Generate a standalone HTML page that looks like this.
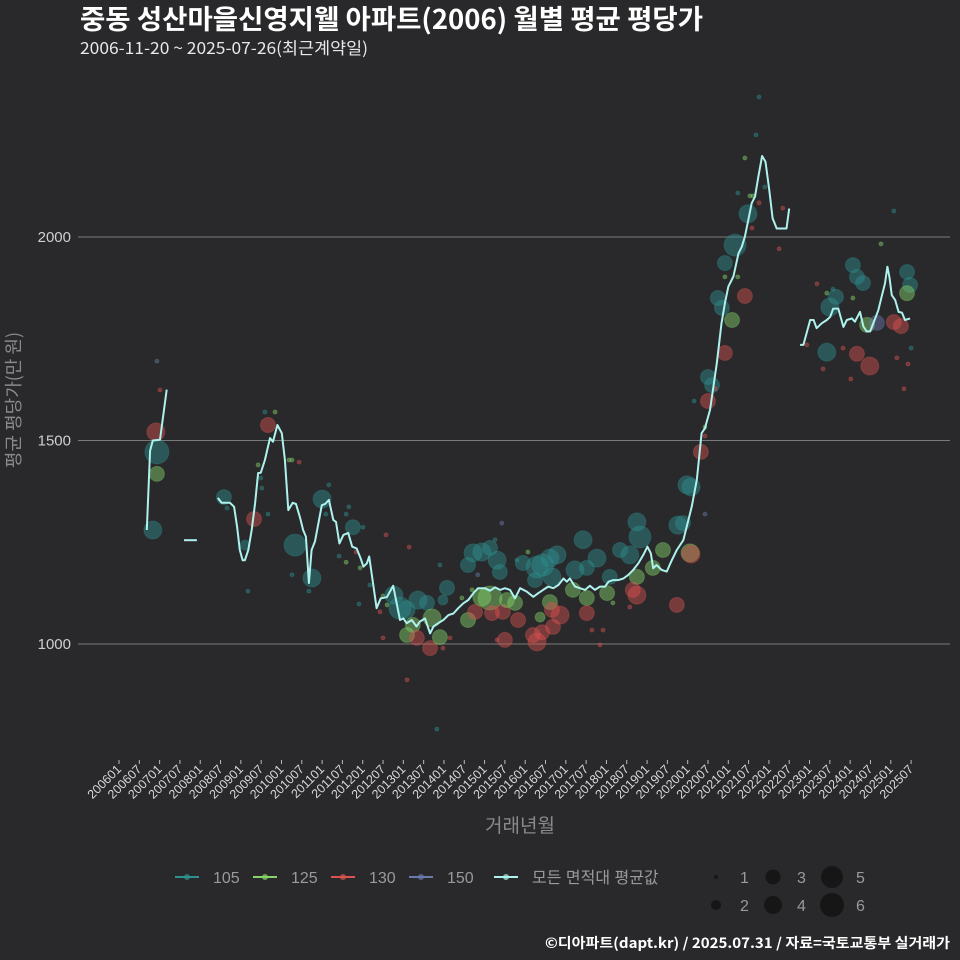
<!DOCTYPE html>
<html><head><meta charset="utf-8">
<style>
html,body{margin:0;padding:0;background:#29292b;}
svg{display:block;font-family:"Liberation Sans","Noto Sans CJK KR",sans-serif;}
</style></head>
<body>
<svg id="chart" width="960" height="960" viewBox="0 0 960 960">
<rect width="960" height="960" fill="#29292b"/>
<text x="80" y="29" fill="#ffffff" font-size="27" font-weight="bold" font-family="'Noto Sans CJK KR',sans-serif" textLength="623" lengthAdjust="spacingAndGlyphs">중동 성산마을신영지웰 아파트(2006) 월별 평균 평당가</text>
<text x="80" y="54" fill="#e8e8e8" font-size="16.5" font-family="'Noto Sans CJK KR',sans-serif" textLength="288" lengthAdjust="spacingAndGlyphs">2006-11-20 ~ 2025-07-26(최근계약일)</text>
<g id="grid"></g>
<g id="bubbles"></g>
<g id="lines"></g>
<g id="xaxis"></g>
<text x="15" y="400" transform="rotate(-90 15 400)" text-anchor="middle" dominant-baseline="middle" fill="#8a8a8a" font-size="18" font-family="'Noto Sans CJK KR',sans-serif">평균 평당가(만 원)</text>
<text x="520" y="832" text-anchor="middle" fill="#8a8a8a" font-size="19" font-family="'Noto Sans CJK KR',sans-serif">거래년월</text>
<g id="legend"></g>
<text x="950" y="948" text-anchor="end" fill="#ffffff" font-size="14" font-weight="bold" font-family="'Noto Sans CJK KR',sans-serif" textLength="405" lengthAdjust="spacingAndGlyphs">©디아파트(dapt.kr) / 2025.07.31 / 자료=국토교통부 실거래가</text>
</svg>
<script>
// y ticks
const yTicks = [1000, 1500, 2000];
// x tick labels (every 6 months from 2006-01)
const xTickLabels = [];
for (let y = 2006; y <= 2025; y++) { xTickLabels.push(y + '01'); xTickLabels.push(y + '07'); }
const groupNames = ['105', '125', '130', '150'];
const groupColors = ['#2f9090', '#86d46a', '#d9534f', '#6a7aaa'];
// average line segments: months since 2006-01 and values
const seg1T = [8.2, 9.2, 10.0, 12.1, 14.1];
const seg1V = [1280, 1475, 1500, 1502, 1625];
const seg2T = [19.2, 23.0];
const seg2V = [1255, 1255];
const seg3T = [29.2,30.3,32.8,34.0,34.9,35.7,36.5,37.2,38.2,39.2,40.2,41.1,41.9,43.1,44.6,45.5,46.8,48.1,49.0,50.0,51.3,52.3,53.5,54.4,55.2,56.1,56.9,57.9,59.9,60.9,62.0,63.3,64.1,65.1,66.3,67.7,68.9,70.2,71.4,72.2,73.2,73.9,76.1,77.3,79.1,81.0,83.0,84.0,85.0,86.5,87.9,88.9,90.4,91.9,92.9,94.3,95.8,97.3,98.8,100.2,101.7,103.2,104.7,106.1,108.1,109.6,111.1,112.6,114.0,115.5,117.0,118.5,120.4,122.4,123.9,125.3,126.8,128.3,129.8,131.3,132.3,133.2,134.7,136.2,137.7,139.1,140.6,142.1,143.6,144.6,146.0,147.5,149.0,150.5,151.9,153.4,154.9,156.1,157.1,157.8,158.8,160.3,161.8,163.3,164.8,166.7,167.7,169.2,170.7,171.1,172.1,173.1,174.6,175.6,176.6,178.0,179.0,180.0,181.5,183.0,184.0,184.9,185.9,186.9,187.9,188.9,190.0,191.0,192.1,193.1,194.3,197.2,198.0];
const seg3V = [1359,1347,1347,1337,1288,1231,1206,1206,1231,1280,1346,1420,1421,1452,1506,1497,1538,1518,1452,1329,1347,1344,1310,1280,1264,1150,1231,1252,1341,1344,1354,1305,1300,1247,1268,1273,1239,1235,1210,1190,1198,1215,1088,1112,1115,1143,1059,1063,1051,1059,1043,1055,1063,1026,1043,1051,1059,1071,1075,1088,1100,1108,1125,1137,1137,1131,1139,1133,1137,1133,1112,1137,1129,1116,1125,1133,1141,1137,1145,1161,1153,1161,1141,1137,1133,1143,1133,1141,1141,1153,1157,1157,1161,1170,1182,1198,1219,1239,1223,1186,1194,1182,1178,1206,1231,1255,1288,1337,1403,1436,1518,1530,1575,1632,1690,1788,1837,1878,1903,1960,1976,2001,2042,2083,2099,2149,2199,2185,2115,2046,2021,2021,2070];
const seg4T = [201.2,202.2,204.2,205.2,206.1,207.6,209.1,210.1,211.0,212.5,214.0,215.0,216.5,217.4,218.9,219.9,220.9,221.9,223.0,224.3,225.3,226.3,227.0,227.6,228.3,229.3,230.3,231.3,232.2,233.7];
const seg4V = [1735,1735,1796,1796,1776,1788,1796,1804,1824,1824,1779,1796,1800,1792,1816,1780,1768,1768,1792,1820,1853,1886,1927,1902,1857,1845,1816,1814,1796,1800];
// bubbles: month, value, count(size), area group index
const bubT = [10.0,11.2,10.9,11.2,11.2,12.1,31.0,31.9,39.9,37.2,38.1,43.1,46.1,44.0,41.1,41.9,42.2,44.0,50.2,51.1,53.2,52.0,51.1,57.0,56.1,60.0,62.0,61.1,67.1,67.9,69.1,72.1,78.9,85.7,70.0,65.0,67.1,71.2,74.1,70.9,77.1,78.0,79.2,78.0,81.2,84.8,85.1,85.1,93.9,83.0,88.3,91.0,96.9,95.7,92.5,86.8,88.0,91.9,94.8,95.7,97.8,94.8,101.3,103.1,105.2,104.6,107.2,109.6,111.7,112.5,103.1,106.0,111.1,113.1,104.3,107.2,109.6,110.2,113.4,114.6,117.0,117.9,114.0,111.7,117.6,119.3,120.8,122.9,123.5,125.2,127.3,129.4,127.9,124.4,127.3,127.9,130.3,128.2,125.0,122.3,123.5,134.7,137.1,138.2,141.2,134.1,138.2,144.2,145.0,148.0,150.9,153.0,153.9,153.0,138.2,139.7,143.0,142.1,145.9,150.9,153.0,151.8,157.7,160.7,164.8,165.1,167.8,168.7,189.1,188.2,184.9,182.8,186.4,187.3,185.8,189.1,187.0,190.8,196.1,195.0,182.0,179.0,179.0,182.8,176.9,178.1,184.9,181.1,179.0,174.0,175.2,176.1,174.0,171.9,169.0,173.1,166.6,169.0,169.9,173.1,173.1,228.9,225.1,216.8,218.0,219.8,210.9,211.8,210.0,209.1,216.8,232.8,233.7,232.8,221.0,223.9,228.9,231.0,203.2,209.1,213.9,218.0,221.8,216.2,208.0,229.8,233.1,231.9,206.2,234.0];
const bubV = [1280,1472,1521,1418,1695,1624,1361,1334,1307,1243,1130,1570,1570,1538,1440,1408,1383,1319,1452,1452,1447,1243,1170,1162,1130,1356,1391,1319,1319,1337,1287,1287,1268,1238,1226,1216,1201,1187,1145,1098,1079,1118,1096,1015,1120,1084,1022,912,791,1088,1108,1101,1138,1108,1064,1047,1015,990,1017,990,1015,1194,1113,1059,1079,1224,1226,1236,1206,1177,1194,1170,1256,1297,1133,1115,1113,1076,1079,1108,1101,1059,1010,1010,1206,1199,1226,1157,1189,1194,1211,1219,1165,1066,1103,1084,1071,1042,1029,1022,1005,1182,1256,1187,1211,1133,1113,1125,1165,1231,1219,1300,1263,1165,1076,1034,1034,998,1101,1091,1120,1133,1187,1231,1096,1292,1391,1224,2344,2251,2194,2108,2101,2101,2057,2084,2022,2123,2071,1971,1980,1936,1902,1902,1850,1826,1855,1796,1715,1656,1636,1627,1597,1472,1386,1319,1297,1221,1597,1533,1511,2064,1983,1931,1902,1887,1872,1853,1828,1862,1850,1914,1882,1862,1784,1789,1791,1781,1735,1717,1727,1713,1683,1651,1676,1703,1688,1627,1885,1727];
const bubS = [4,6,4,3,1,1,3,1,3,2,1,1,1,3,1,1,1,1,1,1,1,5,1,4,1,4,1,1,1,1,3,1,1,1,1,1,1,1,1,1,1,1,1,1,4,4,3,1,1,5,4,3,3,2,4,3,3,3,3,1,1,1,1,3,3,4,4,3,4,3,3,1,1,1,1,4,6,3,3,3,3,3,3,1,1,3,1,3,5,5,4,4,4,2,3,3,4,3,3,3,4,4,4,3,4,3,3,3,3,3,4,4,5,3,3,1,1,1,1,1,4,3,3,3,3,4,4,4,1,1,1,1,1,1,4,1,1,1,1,1,5,3,1,1,3,3,3,3,3,3,3,1,3,3,4,1,3,4,1,1,1,1,1,3,3,3,1,3,4,1,1,3,3,3,3,3,3,3,1,4,1,3,4,1,1,1,1,1,1,1];
const bubG = [0,0,2,1,3,2,0,0,2,0,0,0,1,2,1,0,0,0,1,1,2,0,0,0,0,0,0,0,0,0,0,0,2,2,2,0,1,1,0,0,2,1,1,2,0,0,1,2,0,0,0,0,0,0,1,1,2,2,1,2,2,0,1,1,2,0,0,0,0,0,0,3,0,3,1,1,1,2,2,1,1,2,2,2,0,0,1,0,0,0,0,0,0,1,1,2,2,2,2,2,2,0,0,0,0,1,1,1,0,0,0,0,0,1,2,2,2,2,1,2,2,2,1,1,2,0,0,1,0,0,1,0,1,1,0,2,2,0,2,2,0,0,1,1,0,0,2,1,2,0,0,2,2,2,0,3,0,2,0,1,2,0,1,0,0,0,0,0,0,1,1,0,0,1,1,3,2,2,2,0,2,2,2,2,2,2,2,2,2,0,2];

const NS = 'http://www.w3.org/2000/svg';
const X0 = 119, PXM = 3.385, Y0 = 644, PXV = 0.407;
function xs(t) { return X0 + t * PXM; }
function ys(v) { return Y0 - (v - 1000) * PXV; }
const RAD = [0, 2, 5, 7.5, 9, 11, 12];
function rs(s) { return RAD[s]; }
function mk(tag, attrs, parent) { const e = document.createElementNS(NS, tag); for (const k in attrs) e.setAttribute(k, attrs[k]); parent.appendChild(e); return e; }

const grid = document.getElementById('grid');
yTicks.forEach(v => {
  const l = mk('line', {x1: 78, x2: 950, y1: ys(v), y2: ys(v), stroke: '#7a7a7a', 'stroke-width': 1}, grid);
  
  
  const t = mk('text', {x: 71, y: ys(v) + 5, 'text-anchor': 'end', fill: '#cfcfcf', 'font-size': 15}, grid);
  
  
  t.textContent = v;
});

const xa = document.getElementById('xaxis');
xTickLabels.forEach((lab, i) => {
  const x = xs(i * 6);
  const tk = mk('line', {x1: x, x2: x, y1: 760, y2: 764, stroke: '#bbbbbb', 'stroke-width': 1}, xa);
  
  
  const t = mk('text', {x: x + 3, y: 770, 'text-anchor': 'end', fill: '#d8d8d8', 'font-size': 12.5, transform: 'rotate(-45 ' + (x + 3) + ' 770)'}, xa);
  
  
  t.textContent = lab;
});

const bg = document.getElementById('bubbles');
bubT.forEach((t, i) => {
  const c = mk('circle', {cx: xs(t), cy: ys(bubV[i]), r: rs(bubS[i]), fill: groupColors[bubG[i]], 'fill-opacity': 0.45, stroke: groupColors[bubG[i]], 'stroke-opacity': 0.3, 'stroke-width': 1}, bg);
  
  
});

const lg = document.getElementById('lines');
[[seg1T, seg1V], [seg2T, seg2V], [seg3T, seg3V], [seg4T, seg4V]].forEach(([T, V]) => {
  const d = T.map((t, i) => (i ? 'L' : 'M') + xs(t).toFixed(1) + ' ' + ys(V[i]).toFixed(1)).join(' ');
  const p = mk('path', {d: d, fill: 'none', stroke: '#aef2ee', 'stroke-width': 2, 'stroke-linejoin': 'round'}, lg);
  
  
});

// legend
const leg = document.getElementById('legend');
const legItems = [['105', groupColors[0], 175], ['125', groupColors[1], 253], ['130', groupColors[2], 331], ['150', groupColors[3], 409], ['모든 면적대 평균값', '#aef2ee', 494]];
legItems.forEach(([lab, col, x]) => {
  const g = mk('g', {}, leg);
  
  
  mk('line', {x1: x, x2: x + 24, y1: 877, y2: 877, stroke: col, 'stroke-width': 2}, g);
  mk('circle', {cx: x + 12, cy: 877, r: 3, fill: col, 'fill-opacity': 0.7}, g);
  const t = mk('text', {x: x + 38, y: 883, fill: '#9a9a9a', 'font-size': 16, 'font-family': "'Liberation Sans','Noto Sans CJK KR',sans-serif"}, g);
  t.textContent = lab;
});
const sizeLeg = [[1, 716, 877], [3, 773, 877], [5, 832, 877], [2, 716, 905], [4, 773, 905], [6, 832, 905]];
sizeLeg.forEach(([s, x, y]) => {
  const g = mk('g', {}, leg);
  
  
  mk('circle', {cx: x, cy: y, r: rs(s), fill: '#161617'}, g);
  const t = mk('text', {x: x + 24, y: y + 6, fill: '#9a9a9a', 'font-size': 16}, g);
  t.textContent = s;
});
</script>
</body></html>
